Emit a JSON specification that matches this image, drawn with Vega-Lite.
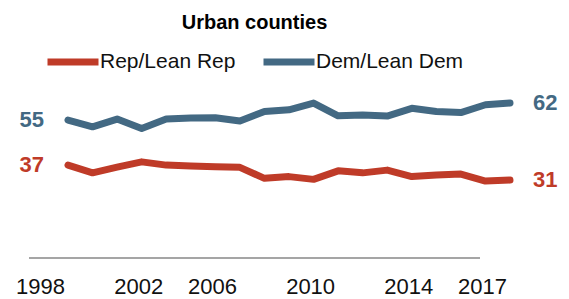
{
  "$schema": "https://vega.github.io/schema/vega-lite/v6.json",
  "width": 451,
  "height": 187.7,
  "autosize": {"type": "none"},
  "padding": {"left": 29, "top": 70, "right": 89, "bottom": 41.3},
  "background": "white",
  "config": {"view": {"stroke": null}, "font": "Liberation Sans"},
  "title": {"text": "Urban counties", "fontSize": 20, "fontWeight": "bold", "color": "#000000", "anchor": "middle", "font": "Liberation Sans", "offset": 0},
  "data": {"values": [
    {"year": 1998, "party": "Rep/Lean Rep", "pct": 37},
    {"year": 1999, "party": "Rep/Lean Rep", "pct": 33.9},
    {"year": 2000, "party": "Rep/Lean Rep", "pct": 36.2},
    {"year": 2001, "party": "Rep/Lean Rep", "pct": 38.3},
    {"year": 2002, "party": "Rep/Lean Rep", "pct": 37},
    {"year": 2003, "party": "Rep/Lean Rep", "pct": 36.6},
    {"year": 2004, "party": "Rep/Lean Rep", "pct": 36.3},
    {"year": 2006, "party": "Rep/Lean Rep", "pct": 36.1},
    {"year": 2007, "party": "Rep/Lean Rep", "pct": 31.7},
    {"year": 2008, "party": "Rep/Lean Rep", "pct": 32.4},
    {"year": 2009, "party": "Rep/Lean Rep", "pct": 31.3},
    {"year": 2010, "party": "Rep/Lean Rep", "pct": 34.7},
    {"year": 2011, "party": "Rep/Lean Rep", "pct": 33.9},
    {"year": 2012, "party": "Rep/Lean Rep", "pct": 35},
    {"year": 2013, "party": "Rep/Lean Rep", "pct": 32.4},
    {"year": 2014, "party": "Rep/Lean Rep", "pct": 33},
    {"year": 2015, "party": "Rep/Lean Rep", "pct": 33.4},
    {"year": 2016, "party": "Rep/Lean Rep", "pct": 30.6},
    {"year": 2017, "party": "Rep/Lean Rep", "pct": 31},
    {"year": 1998, "party": "Dem/Lean Dem", "pct": 55},
    {"year": 1999, "party": "Dem/Lean Dem", "pct": 52.3},
    {"year": 2000, "party": "Dem/Lean Dem", "pct": 55.4},
    {"year": 2001, "party": "Dem/Lean Dem", "pct": 51.6},
    {"year": 2002, "party": "Dem/Lean Dem", "pct": 55.4},
    {"year": 2003, "party": "Dem/Lean Dem", "pct": 55.8},
    {"year": 2004, "party": "Dem/Lean Dem", "pct": 55.9},
    {"year": 2006, "party": "Dem/Lean Dem", "pct": 54.6},
    {"year": 2007, "party": "Dem/Lean Dem", "pct": 58.4},
    {"year": 2008, "party": "Dem/Lean Dem", "pct": 59.1},
    {"year": 2009, "party": "Dem/Lean Dem", "pct": 61.8},
    {"year": 2010, "party": "Dem/Lean Dem", "pct": 56.7},
    {"year": 2011, "party": "Dem/Lean Dem", "pct": 57},
    {"year": 2012, "party": "Dem/Lean Dem", "pct": 56.6},
    {"year": 2013, "party": "Dem/Lean Dem", "pct": 59.7},
    {"year": 2014, "party": "Dem/Lean Dem", "pct": 58.4},
    {"year": 2015, "party": "Dem/Lean Dem", "pct": 58},
    {"year": 2016, "party": "Dem/Lean Dem", "pct": 61.1},
    {"year": 2017, "party": "Dem/Lean Dem", "pct": 61.8}
  ]},
  "layer": [
    {
      "mark": {"type": "rule", "color": "#a6a6a6", "strokeWidth": 1},
      "encoding": {"y": {"datum": 0, "type": "quantitative", "axis": null}}
    },
    {
      "mark": {"type": "line", "strokeWidth": 7, "strokeCap": "round", "strokeJoin": "round"},
      "encoding": {
        "x": {"field": "year", "type": "ordinal", "scale": {"type": "point", "range": [39, 481], "padding": 0},
          "axis": {"values": [1998, 2002, 2006, 2010, 2014, 2017], "ticks": false, "domain": false, "grid": false, "title": null, "labelAngle": 0, "labelFontSize": 22, "labelFont": "Liberation Sans", "labelColor": "#111111", "labelPadding": 36, "labelBaseline": "alphabetic", "labelOffset": -28}},
        "y": {"field": "pct", "type": "quantitative", "scale": {"domain": [0, 75], "nice": false, "zero": true}, "axis": null},
        "color": {"field": "party", "type": "nominal",
          "scale": {"domain": ["Rep/Lean Rep", "Dem/Lean Dem"], "range": ["#bf3b28", "#436983"]},
          "legend": {"orient": "none", "legendX": 15, "legendY": -37, "direction": "horizontal", "title": null, "symbolType": "stroke", "symbolStrokeWidth": 7, "symbolSize": 2601, "labelFontSize": 21, "labelFont": "Liberation Sans", "labelColor": "#111111", "labelOffset": -2, "columnPadding": 13, "labelLimit": 300}}
      }
    },
    {
      "transform": [{"filter": "datum.year == 1998"}],
      "mark": {"type": "text", "align": "right", "dx": -24, "fontSize": 22, "fontWeight": "bold", "baseline": "middle", "font": "Liberation Sans"},
      "encoding": {
        "x": {"field": "year", "type": "ordinal"},
        "y": {"field": "pct", "type": "quantitative"},
        "text": {"field": "pct", "type": "quantitative", "format": ".0f"},
        "color": {"field": "party", "type": "nominal"}
      }
    },
    {
      "transform": [{"filter": "datum.year == 2017"}],
      "mark": {"type": "text", "align": "left", "dx": 23, "fontSize": 22, "fontWeight": "bold", "baseline": "middle", "font": "Liberation Sans"},
      "encoding": {
        "x": {"field": "year", "type": "ordinal"},
        "y": {"field": "pct", "type": "quantitative"},
        "text": {"field": "pct", "type": "quantitative", "format": ".0f"},
        "color": {"field": "party", "type": "nominal"}
      }
    }
  ]
}
